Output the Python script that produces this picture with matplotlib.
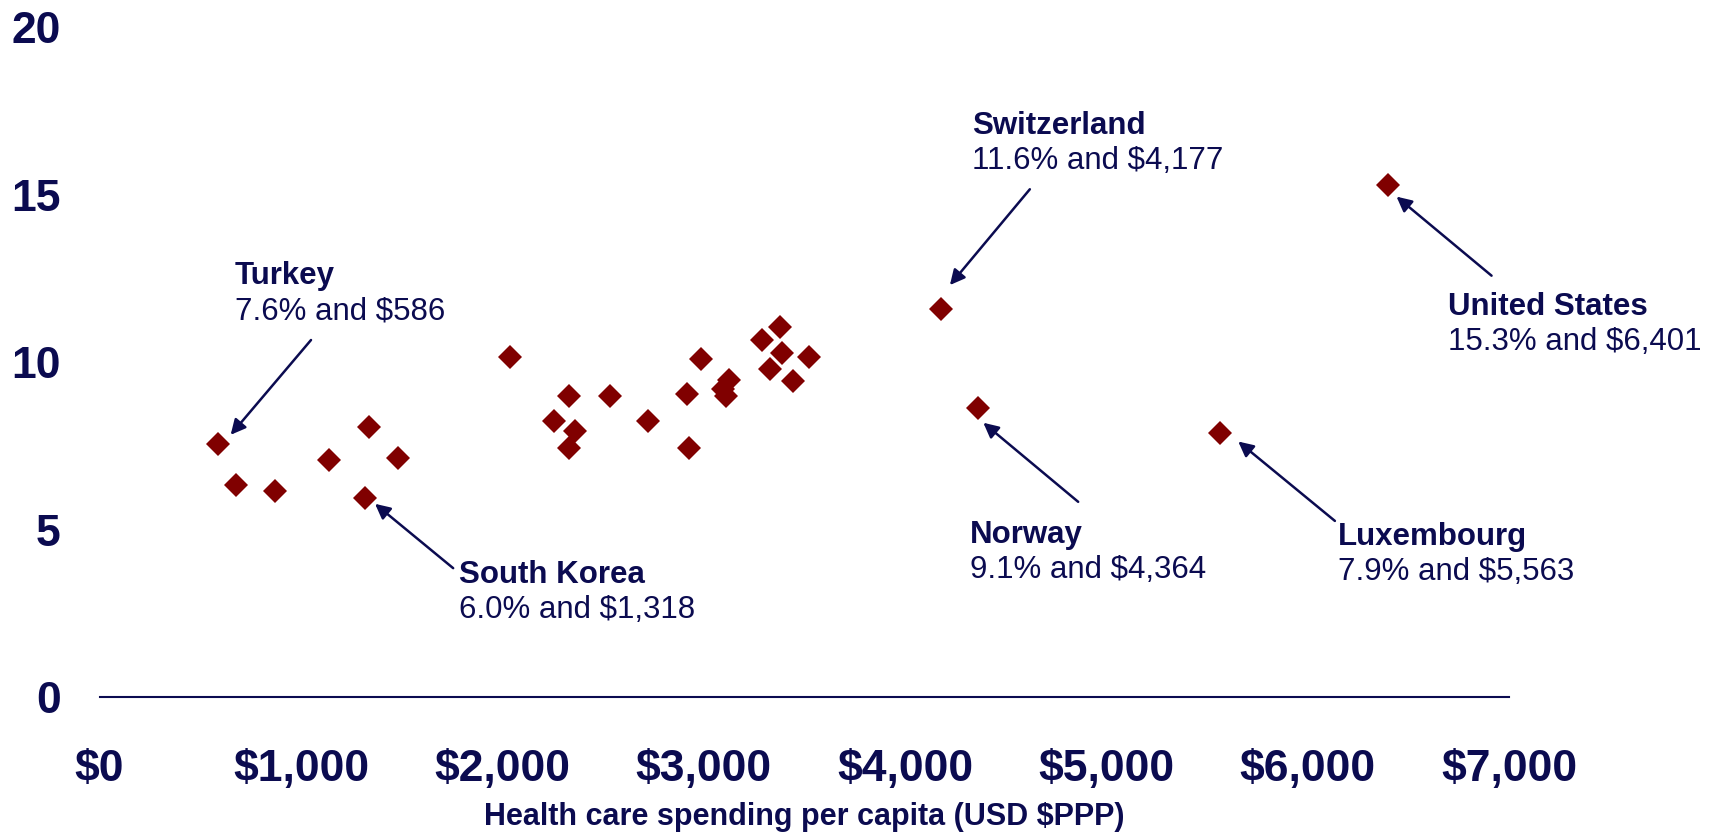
import matplotlib
matplotlib.use('Agg')
import matplotlib.pyplot as plt
from matplotlib import rcParams

rcParams['font.family'] = ['Liberation Sans', 'DejaVu Sans']

# Health care spending per capita (USD PPP) vs. share of GDP (%)
spending = [586, 679, 871, 1138, 1338, 1318, 1482,
            2039, 2257, 2333, 2363, 2333, 2536, 2726, 2918, 2928, 2986,
            3098, 3128, 3110, 3292, 3379, 3330, 3388, 3446, 3521,
            4177, 4364, 5563, 6401]
gdp_share = [7.56, 6.34, 6.17, 7.10, 8.07, 5.95, 7.16,
             10.16, 8.26, 9.00, 7.96, 7.44, 9.00, 8.25, 9.06, 7.45, 10.10,
             9.20, 9.48, 9.01, 10.67, 11.07, 9.81, 10.27, 9.46, 10.16,
             11.59, 8.65, 7.88, 15.30]

# callouts: name, value text, text anchor (baseline of name), arrow tail, arrow head
callout_names = ['Turkey', 'Switzerland', 'South Korea', 'Norway', 'Luxembourg', 'United States']
callout_values = ['7.6% and $586', '11.6% and $4,177', '6.0% and $1,318',
                  '9.1% and $4,364', '7.9% and $5,563', '15.3% and $6,401']
text_pos = [(672, 12.33), (4331, 16.82), (1786, 3.41), (4322, 4.61), (6148, 4.56), (6698, 11.43)]
arrow_tail = [(1050, 10.67), (4620, 15.17), (1756, 3.86), (4860, 5.84), (6135, 5.27), (6913, 12.59)]
arrow_head = [(651, 7.84), (4223, 12.31), (1368, 5.78), (4389, 8.20), (5655, 7.64), (6441, 14.95)]

xticks = [0, 1000, 2000, 3000, 4000, 5000, 6000, 7000]
xtick_labels = ['$0', '$1,000', '$2,000', '$3,000', '$4,000', '$5,000', '$6,000', '$7,000']
yticks = [0, 5, 10, 15, 20]

navy = '#0B0B50'
dark_red = '#800000'

fig = plt.figure(figsize=(17.17, 8.34), dpi=100)
ax = fig.add_axes([0.058, 0.1637, 0.8209, 0.8034])

ax.plot(spending, gdp_share, 'D', color=dark_red, markersize=12.5,
        markeredgewidth=0, clip_on=False, zorder=3)

for name, val, tp, tail, head in zip(callout_names, callout_values, text_pos, arrow_tail, arrow_head):
    ax.text(tp[0], tp[1], name, fontsize=22.5, fontweight='bold', color=navy,
            ha='left', va='baseline')
    ax.annotate(val, xy=tp, xytext=(0, -25.2), textcoords='offset points',
                fontsize=22.5, color=navy, ha='left', va='baseline')
    ax.annotate('', xy=head, xytext=tail,
                arrowprops=dict(arrowstyle='-|>,head_length=0.9,head_width=0.45',
                                color=navy, lw=1.8, shrinkA=0, shrinkB=0))

ax.set_xlim(0, 7000)
ax.set_ylim(0, 20)
ax.set_xticks(xticks)
ax.set_xticklabels(xtick_labels)
ax.set_yticks(yticks)

for s in ['top', 'right', 'left']:
    ax.spines[s].set_visible(False)
ax.spines['bottom'].set_color(navy)
ax.spines['bottom'].set_linewidth(1.5)

ax.tick_params(axis='both', length=0, labelcolor=navy, labelsize=32)
ax.tick_params(axis='y', pad=28)
ax.tick_params(axis='x', pad=37)
for lbl in ax.get_xticklabels() + ax.get_yticklabels():
    lbl.set_fontweight('bold')

ax.set_xlabel('Health care spending per capita (USD $PPP)', fontsize=22,
              fontweight='bold', color=navy, labelpad=9)

plt.savefig('out.png', dpi=100)
